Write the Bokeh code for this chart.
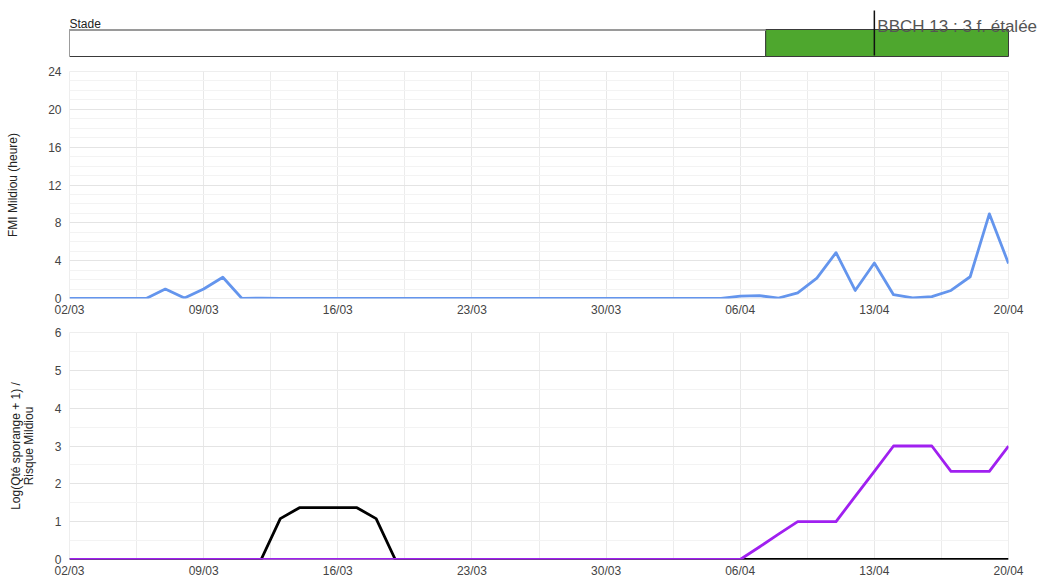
from bokeh.plotting import figure
from bokeh.layouts import column
from bokeh.models import Range1d, FixedTicker, Label, Span
from bokeh.embed import file_html
from bokeh.resources import INLINE

# ---------------- data ----------------
days = list(range(50))  # 02/03 .. 20/04
tick_days = [0, 7, 14, 21, 28, 35, 42, 49]
tick_labels = ["02/03", "09/03", "16/03", "23/03", "30/03", "06/04", "13/04", "20/04"]

fmi = [0, 0, 0, 0, 0, 1.0, 0.05, 1.0, 2.25, 0, 0.05, 0, 0, 0, 0, 0, 0, 0, 0, 0,
       0, 0, 0, 0, 0, 0, 0, 0, 0, 0, 0, 0, 0, 0, 0, 0.25, 0.3, 0.05, 0.6, 2.15,
       4.85, 0.85, 3.75, 0.4, 0.07, 0.2, 0.85, 2.3, 8.95, 3.7]

sporange = [0, 0, 0, 0, 0, 0, 0, 0, 0, 0, 0, 1.08, 1.37, 1.37, 1.37, 1.37, 1.08, 0, 0, 0,
            0, 0, 0, 0, 0, 0, 0, 0, 0, 0, 0, 0, 0, 0, 0, 0, 0, 0, 0, 0,
            0, 0, 0, 0, 0, 0, 0, 0, 0, 0]

risque = [0, 0, 0, 0, 0, 0, 0, 0, 0, 0, 0, 0, 0, 0, 0, 0, 0, 0, 0, 0,
          0, 0, 0, 0, 0, 0, 0, 0, 0, 0, 0, 0, 0, 0, 0, 0, 0.33, 0.67, 1, 1,
          1, 1.67, 2.33, 3, 3, 3, 2.33, 2.33, 2.33, 3]

stage_start = [0, 36.33]
stage_end = [36.33, 49]
stage_colors = ["#ffffff", "#4ea72e"]
bbch_day = [42]
bbch_text = "BBCH 13 : 3 f. étalée"

FONT = "Liberation Sans"
W, ML, FW = 1041, 69, 939
MR = W - ML - FW
xr = Range1d(0, 49)
minor_x = [d + 3.5 for d in tick_days[:-1]]
overrides = {d: l for d, l in zip(tick_days, tick_labels)}

# ---------------- stage bar (frame runs to the right edge so the label is not clipped) ----------------
s_xr = Range1d(0, days[-1] * (W - ML) / FW)
s = figure(width=W, height=58, x_range=s_xr, y_range=Range1d(58, 0),
           x_axis_location=None, y_axis_location=None,
           output_backend="svg", toolbar_location=None, frame_align=False,
           min_border_left=ML, min_border_right=0, min_border_top=0, min_border_bottom=0)
s.grid.visible = False
s.outline_line_color = None
s.quad(left=stage_start, right=stage_end, top=[29] * len(stage_start), bottom=[56] * len(stage_start),
       fill_color=stage_colors, line_color="#3a3a3a", line_width=1)
s.segment(x0=[stage_start[0]], x1=[stage_end[0]], y0=[29.5], y1=[29.5], line_color="#9a9a9a", line_width=2)
s.segment(x0=bbch_day, x1=bbch_day, y0=[10] * len(bbch_day), y1=[55] * len(bbch_day),
          line_color="#111111", line_width=1.5)
s.add_layout(Label(x=0, y=23, text="Stade", text_font=FONT, text_font_size="12px",
                   text_color="#222222", text_baseline="alphabetic"))
s.add_layout(Label(x=bbch_day[0], y=26, x_offset=3, text=bbch_text, text_font=FONT,
                   text_font_size="17px", text_color="#555555", text_baseline="alphabetic"))


def style(p, yticks, yminor, label, label_standoff):
    p.xaxis.ticker = FixedTicker(ticks=tick_days, minor_ticks=minor_x)
    p.xaxis.major_label_overrides = overrides
    p.yaxis.ticker = FixedTicker(ticks=yticks, minor_ticks=yminor)
    for ax in (p.xaxis, p.yaxis):
        ax.major_tick_line_color = None
        ax.minor_tick_line_color = None
        ax.major_tick_out = 0
        ax.minor_tick_out = 0
        ax.major_label_text_font = FONT
        ax.major_label_text_font_size = "12px"
        ax.major_label_text_color = "#444444"
        ax.axis_line_color = None
    p.xaxis.major_label_standoff = 4
    p.yaxis.major_label_standoff = 8
    p.yaxis.axis_label = label
    p.yaxis.axis_label_text_font = FONT
    p.yaxis.axis_label_text_font_size = "12px"
    p.yaxis.axis_label_text_font_style = "normal"
    p.yaxis.axis_label_text_color = "#222222"
    p.yaxis.axis_label_text_line_height = 0.95
    p.yaxis.axis_label_standoff = label_standoff
    p.xgrid.grid_line_color = "#e8e8e8"
    p.xgrid.minor_grid_line_color = "#ececec"
    p.ygrid.grid_line_color = "#e4e4e4"
    p.ygrid.minor_grid_line_color = "#f3f3f3"
    p.outline_line_color = "#eeeeee"


# ---------------- FMI chart ----------------
p1 = figure(width=W, height=261, x_range=xr, y_range=Range1d(0, 24),
            output_backend="svg", toolbar_location=None, frame_align=False,
            min_border_left=ML, min_border_right=MR, min_border_top=13, min_border_bottom=21)
style(p1, list(range(0, 25, 4)), list(range(25)), "FMI Mildiou (heure)", 25)
p1.line(days, fmi, line_color="#6495ed", line_width=2.8, line_join="round")

# ---------------- sporange / risque chart ----------------
p2 = figure(width=W, height=261, x_range=xr, y_range=Range1d(0, 6),
            output_backend="svg", toolbar_location=None, frame_align=False,
            min_border_left=ML, min_border_right=MR, min_border_top=13, min_border_bottom=21)
style(p2, list(range(7)), [i / 2 for i in range(13)],
      "Log(Qté sporange + 1) /\nRisque Mildiou", 16)
p2.add_layout(Span(location=0, dimension="width", line_color="#333333", line_width=1.5, level="underlay"))
p2.line(days, sporange, line_color="#000000", line_width=2.8, line_join="round")
p2.line(days, risque, line_color="#a020f0", line_width=2.8, line_join="round")

layout = column(s, p1, p2, spacing=0)
open("out.html", "w").write(file_html(layout, INLINE))
